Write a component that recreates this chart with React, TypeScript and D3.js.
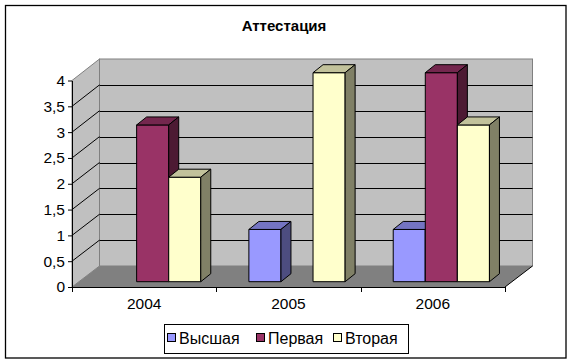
import React, { useEffect, useRef } from "react";
import * as d3 from "d3";

const categories = ["2004", "2005", "2006"];
const seriesNames = ["Высшая", "Первая", "Вторая"];
const vysshaya = [0, 1, 1];
const pervaya = [3, 0, 4];
const vtoraya = [2, 4, 3];
const yTickValues = [0, 0.5, 1, 1.5, 2, 2.5, 3, 3.5, 4];
const title = "Аттестация";

const seriesColors = ["#9999FF", "#993366", "#FFFFCC"];
const FONT = "Arial, 'Liberation Sans', sans-serif";

function shade(c: string, k: number) {
  const r = d3.rgb(c);
  return d3.rgb(r.r * k, r.g * k, r.b * k).formatHex();
}

export default function App() {
  const ref = useRef<SVGSVGElement>(null);

  useEffect(() => {
    const svg = d3.select(ref.current);
    svg.selectAll("*").remove();

    const width = 572, height = 363;
    // front plane of the 3d box
    const left = 72, right = 505, bottom = 287, top = 80.5;
    const depthX = 27.5, depthY = 21;
    // where the bars stand inside the box
    const barDX = 8.5, barBottom = 281.7, barTop4 = 72.7;
    const barDepthX = 10, barDepthY = 8;

    const series = [vysshaya, pervaya, vtoraya];

    svg.attr("width", width).attr("height", height);

    svg.append("rect")
      .attr("x", 0).attr("y", 0).attr("width", width).attr("height", height)
      .attr("fill", "#fff");
    svg.append("rect")
      .attr("x", 5.5).attr("y", 5.5).attr("width", 560.5).attr("height", 352.5)
      .attr("fill", "none").attr("stroke", "#000").attr("stroke-width", 1.3);

    svg.append("text")
      .attr("x", 284).attr("y", 31)
      .attr("text-anchor", "middle")
      .attr("font-family", FONT).attr("font-size", 15).attr("font-weight", "bold")
      .text(title);

    const yFront = d3.scaleLinear().domain([0, 4]).range([bottom, top]);
    const yBack = d3.scaleLinear().domain([0, 4]).range([bottom - depthY, top - depthY - 0.5]);
    const yBar = d3.scaleLinear().domain([0, 4]).range([barBottom, barTop4]);

    const xCat = d3.scaleBand().domain(categories).range([left, right]).padding(0);
    const xSer = d3.scaleBand().domain(seriesNames)
      .range([0, xCat.bandwidth()]).paddingInner(0).paddingOuter(0.75);

    const bx0 = left + depthX, bx1 = right + depthX;

    // back wall
    svg.append("rect")
      .attr("x", bx0).attr("y", yBack(4))
      .attr("width", bx1 - bx0).attr("height", yBack(0) - yBack(4))
      .attr("fill", "#C0C0C0").attr("stroke", "#808080");
    // side wall
    svg.append("polygon")
      .attr("points", [[left, yFront(4)], [bx0, yBack(4)], [bx0, yBack(0)], [left, yFront(0)]].join(" "))
      .attr("fill", "#C0C0C0").attr("stroke", "#808080");
    // floor
    svg.append("polygon")
      .attr("points", [[left, yFront(0)], [right, yFront(0)], [bx1, yBack(0)], [bx0, yBack(0)]].join(" "))
      .attr("fill", "#808080");
    svg.append("line")
      .attr("x1", right).attr("y1", yFront(0)).attr("x2", bx1).attr("y2", yBack(0))
      .attr("stroke", "#000");

    // gridlines
    const grid = yTickValues.filter(v => v > 0 && v < 4);
    const g = svg.append("g").attr("stroke", "#000").attr("fill", "none");
    grid.forEach(v => {
      g.append("line").attr("x1", left).attr("y1", yFront(v)).attr("x2", bx0).attr("y2", yBack(v));
      g.append("line").attr("x1", bx0).attr("y1", Math.round(yBack(v)) + 0.5)
        .attr("x2", bx1).attr("y2", Math.round(yBack(v)) + 0.5);
    });

    // bars
    const bars = svg.append("g").attr("stroke", "#000").attr("stroke-width", 1).attr("stroke-linejoin", "round");
    categories.forEach((c, ci) => {
      series.forEach((vals, si) => {
        const v = vals[ci];
        if (!v) return;
        const x0 = (xCat(c) as number) + (xSer(seriesNames[si]) as number) + barDX;
        const w = xSer.bandwidth();
        const yt = yBar(v), yb = yBar(0);
        const col = seriesColors[si];
        bars.append("rect")
          .attr("x", x0).attr("y", yt).attr("width", w).attr("height", yb - yt)
          .attr("fill", col);
        bars.append("polygon")
          .attr("points", [[x0, yt], [x0 + barDepthX, yt - barDepthY], [x0 + w + barDepthX, yt - barDepthY], [x0 + w, yt]].join(" "))
          .attr("fill", shade(col, 0.76));
        bars.append("polygon")
          .attr("points", [[x0 + w, yt], [x0 + w + barDepthX, yt - barDepthY], [x0 + w + barDepthX, yb - barDepthY], [x0 + w, yb]].join(" "))
          .attr("fill", shade(col, 0.5));
      });
    });

    // y axis
    const yAxis = d3.axisLeft(yFront)
      .tickValues(yTickValues)
      .tickSizeInner(4).tickSizeOuter(0).tickPadding(3)
      .tickFormat(d => String(d).replace(".", ","));
    const ya = svg.append("g")
      .attr("transform", "translate(" + left + ",0)")
      .call(yAxis);
    ya.selectAll("text").attr("font-family", FONT).attr("font-size", 15.5).attr("fill", "#000");
    ya.selectAll("line, path").attr("stroke", "#000");

    // x axis: ticks at category boundaries, labels in the middle
    const xa = svg.append("g").attr("stroke", "#000");
    xa.append("line").attr("x1", left).attr("y1", bottom + 0.5).attr("x2", right).attr("y2", bottom + 0.5);
    const bounds = categories.map(c => xCat(c) as number).concat([right]);
    bounds.forEach(x => {
      xa.append("line").attr("x1", Math.round(x) + 0.5).attr("y1", bottom)
        .attr("x2", Math.round(x) + 0.5).attr("y2", bottom + 5);
    });
    svg.append("g").selectAll("text").data(categories).join("text")
      .attr("x", d => (xCat(d) as number) + xCat.bandwidth() / 2)
      .attr("y", 309)
      .attr("text-anchor", "middle")
      .attr("font-family", FONT).attr("font-size", 15.5)
      .text(d => d);

    // legend
    const legendX = [167, 256, 333];
    svg.append("rect")
      .attr("x", 164.5).attr("y", 324.5).attr("width", 244).attr("height", 29)
      .attr("fill", "#fff").attr("stroke", "#000");
    const items = svg.append("g").selectAll("g").data(seriesNames).join("g")
      .attr("transform", (d, i) => "translate(" + legendX[i] + ",0)");
    items.append("rect")
      .attr("x", 0.5).attr("y", 333.5).attr("width", 8).attr("height", 8)
      .attr("fill", (d, i) => seriesColors[i]).attr("stroke", "#000");
    items.append("text")
      .attr("x", 12).attr("y", 344)
      .attr("font-family", FONT).attr("font-size", 16)
      .text(d => d);
  }, []);

  return (
    <svg ref={ref} style={{ position: "absolute", left: 0, top: 0, display: "block" }}></svg>
  );
}
